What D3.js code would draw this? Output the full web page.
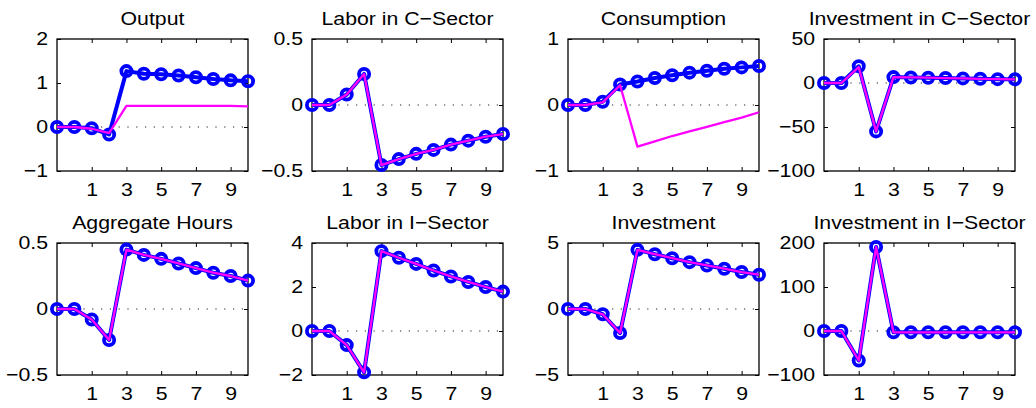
<!DOCTYPE html>
<html>
<head>
<meta charset="utf-8">
<script src="https://cdn.jsdelivr.net/npm/d3@7"></script>
<style>
  body { margin: 0; background: #fff; }
  svg { display: block; }
  text { font-family: "Liberation Sans", Arial, Helvetica, sans-serif; fill: #000; }
</style>
</head>
<body>
<svg id="chart" width="1036" height="408"></svg>
<script>
// Horizon (quarters) shared by every panel
const periods = [-1, 0, 1, 2, 3, 4, 5, 6, 7, 8, 9, 10];
const xTicks = [1, 3, 5, 7, 9];

const titles = [
  "Output", "Labor in C\u2212Sector", "Consumption", "Investment in C\u2212Sector",
  "Aggregate Hours", "Labor in I\u2212Sector", "Investment", "Investment in I\u2212Sector"
];

// Impulse responses, model with markers (blue)
const output      = [0, 0, -0.03, -0.17, 1.27, 1.21, 1.20, 1.17, 1.13, 1.09, 1.06, 1.04];
const laborC      = [0, 0, 0.08, 0.235, -0.455, -0.41, -0.37, -0.34, -0.30, -0.27, -0.24, -0.22];
const consumption = [0, 0, 0.05, 0.31, 0.355, 0.41, 0.45, 0.49, 0.52, 0.55, 0.57, 0.59];
const investC     = [0, 0, 19, -55, 6.7, 6.3, 6.0, 5.6, 5.2, 4.8, 4.4, 4.2];
const hours       = [0, 0, -0.08, -0.235, 0.45, 0.41, 0.38, 0.345, 0.31, 0.275, 0.25, 0.215];
const laborI      = [0, 0, -0.64, -1.88, 3.63, 3.33, 3.05, 2.75, 2.48, 2.23, 2.0, 1.79];
const investment  = [0, 0, -0.4, -1.82, 4.48, 4.15, 3.85, 3.55, 3.3, 3.05, 2.8, 2.6];
const investI     = [0, 0, -67, 191, -3, -3, -3, -3, -3, -3, -3, -3];

// Impulse responses, comparison model (magenta)
const outputAlt      = [0, 0, -0.04, -0.14, 0.48, 0.48, 0.48, 0.48, 0.48, 0.48, 0.48, 0.47];
const laborCAlt      = [0, 0, 0.08, 0.235, -0.455, -0.41, -0.37, -0.34, -0.30, -0.27, -0.24, -0.22];
const consumptionAlt = [0, 0, 0.04, 0.30, -0.63, -0.55, -0.47, -0.40, -0.33, -0.26, -0.19, -0.11];
const investCAlt     = [0, 0, 18, -55, 6.7, 6.3, 6.0, 5.6, 5.2, 4.8, 4.4, 4.2];
const hoursAlt       = [0, 0, -0.08, -0.235, 0.45, 0.41, 0.38, 0.345, 0.31, 0.275, 0.25, 0.215];
const laborIAlt      = [0, 0, -0.64, -1.88, 3.63, 3.33, 3.05, 2.75, 2.48, 2.23, 2.0, 1.79];
const investmentAlt  = [0, 0, -0.4, -1.82, 4.48, 4.15, 3.85, 3.55, 3.3, 3.05, 2.8, 2.6];
const investIAlt     = [0, 0, -67, 191, -3, -3, -3, -3, -3, -3, -3, -3];

// Y axis ranges and ticks
const yDomains = [[-1, 2], [-0.5, 0.5], [-1, 1], [-100, 50], [-0.5, 0.5], [-2, 4], [-5, 5], [-100, 200]];
const yTicks = [
  [-1, 0, 1, 2], [-0.5, 0, 0.5], [-1, 0, 1], [-100, -50, 0, 50],
  [-0.5, 0, 0.5], [-2, 0, 2, 4], [-5, 0, 5], [-100, 0, 100, 200]
];

const baseSeries = [output, laborC, consumption, investC, hours, laborI, investment, investI];
const altSeries = [outputAlt, laborCAlt, consumptionAlt, investCAlt, hoursAlt, laborIAlt, investmentAlt, investIAlt];

// Panel grid
const colLeft = [57, 312, 568, 824];
const rowTop = [39, 243];
const pw = 191, ph = 132;

// Text is set in a slightly widened sans-serif
const fontSize = 18.5;
const widen = 1.15;

const svg = d3.select("#chart");

titles.forEach((title, i) => {
  const col = i % 4, row = Math.floor(i / 4);
  const g = svg.append("g").attr("transform", `translate(${colLeft[col]},${rowTop[row]})`);

  const x = d3.scaleLinear().domain([-1, 10]).range([0, pw]);
  const y = d3.scaleLinear().domain(yDomains[i]).range([ph, 0]);

  // zero reference line
  g.append("line")
    .attr("x1", x(-1)).attr("x2", x(10))
    .attr("y1", y(0)).attr("y2", y(0))
    .attr("stroke", "#222").attr("stroke-width", 1.1)
    .attr("stroke-dasharray", "1.2,7.6");

  // axes with inward ticks
  const bottom = g.append("g").attr("transform", `translate(0,${ph})`)
    .call(d3.axisBottom(x).tickValues(xTicks).tickSizeInner(-4).tickSizeOuter(0).tickPadding(12).tickFormat(d3.format("")));
  const top = g.append("g")
    .call(d3.axisTop(x).tickValues(xTicks).tickSizeInner(-4).tickSizeOuter(0).tickFormat(""));
  const left = g.append("g")
    .call(d3.axisLeft(y).tickValues(yTicks[i]).tickSizeInner(-4).tickSizeOuter(0).tickPadding(7.8).tickFormat(d3.format("")));
  const right = g.append("g").attr("transform", `translate(${pw},0)`)
    .call(d3.axisRight(y).tickValues(yTicks[i]).tickSizeInner(-4).tickSizeOuter(0).tickFormat(""));

  [bottom, top, left, right].forEach(a => {
    a.select(".domain").remove();
    a.selectAll("line").attr("stroke", "#000").attr("stroke-width", 1);
    a.selectAll("text").attr("font-size", fontSize).attr("fill", "#000")
      .attr("font-family", '"Liberation Sans", Arial, sans-serif')
      .attr("transform", `scale(${widen},1)`);
  });

  // frame
  g.append("rect").attr("x", 0).attr("y", 0).attr("width", pw).attr("height", ph)
    .attr("fill", "none").attr("stroke", "#000").attr("stroke-width", 1.3);

  // title
  g.append("g").attr("transform", `translate(${pw / 2},-14)`)
    .append("text").attr("x", 0).attr("y", 0)
    .attr("transform", `scale(${widen},1)`)
    .attr("text-anchor", "middle").attr("font-size", fontSize).text(title);

  const line = d3.line().x((d, k) => x(periods[k])).y(d => y(d));

  // blue model: thick line with open circle markers
  g.append("path").datum(baseSeries[i]).attr("d", line)
    .attr("fill", "none").attr("stroke", "#0000ff").attr("stroke-width", 4)
    .attr("stroke-linejoin", "round");
  g.selectAll("circle.mk").data(baseSeries[i]).join("circle").attr("class", "mk")
    .attr("cx", (d, k) => x(periods[k])).attr("cy", d => y(d)).attr("r", 5.1)
    .attr("fill", "none").attr("stroke", "#0000ff").attr("stroke-width", 3.8);

  // magenta model
  g.append("path").datum(altSeries[i]).attr("d", line)
    .attr("fill", "none").attr("stroke", "#ff00ff").attr("stroke-width", 2.3)
    .attr("stroke-linejoin", "round");
});
</script>
</body>
</html>
